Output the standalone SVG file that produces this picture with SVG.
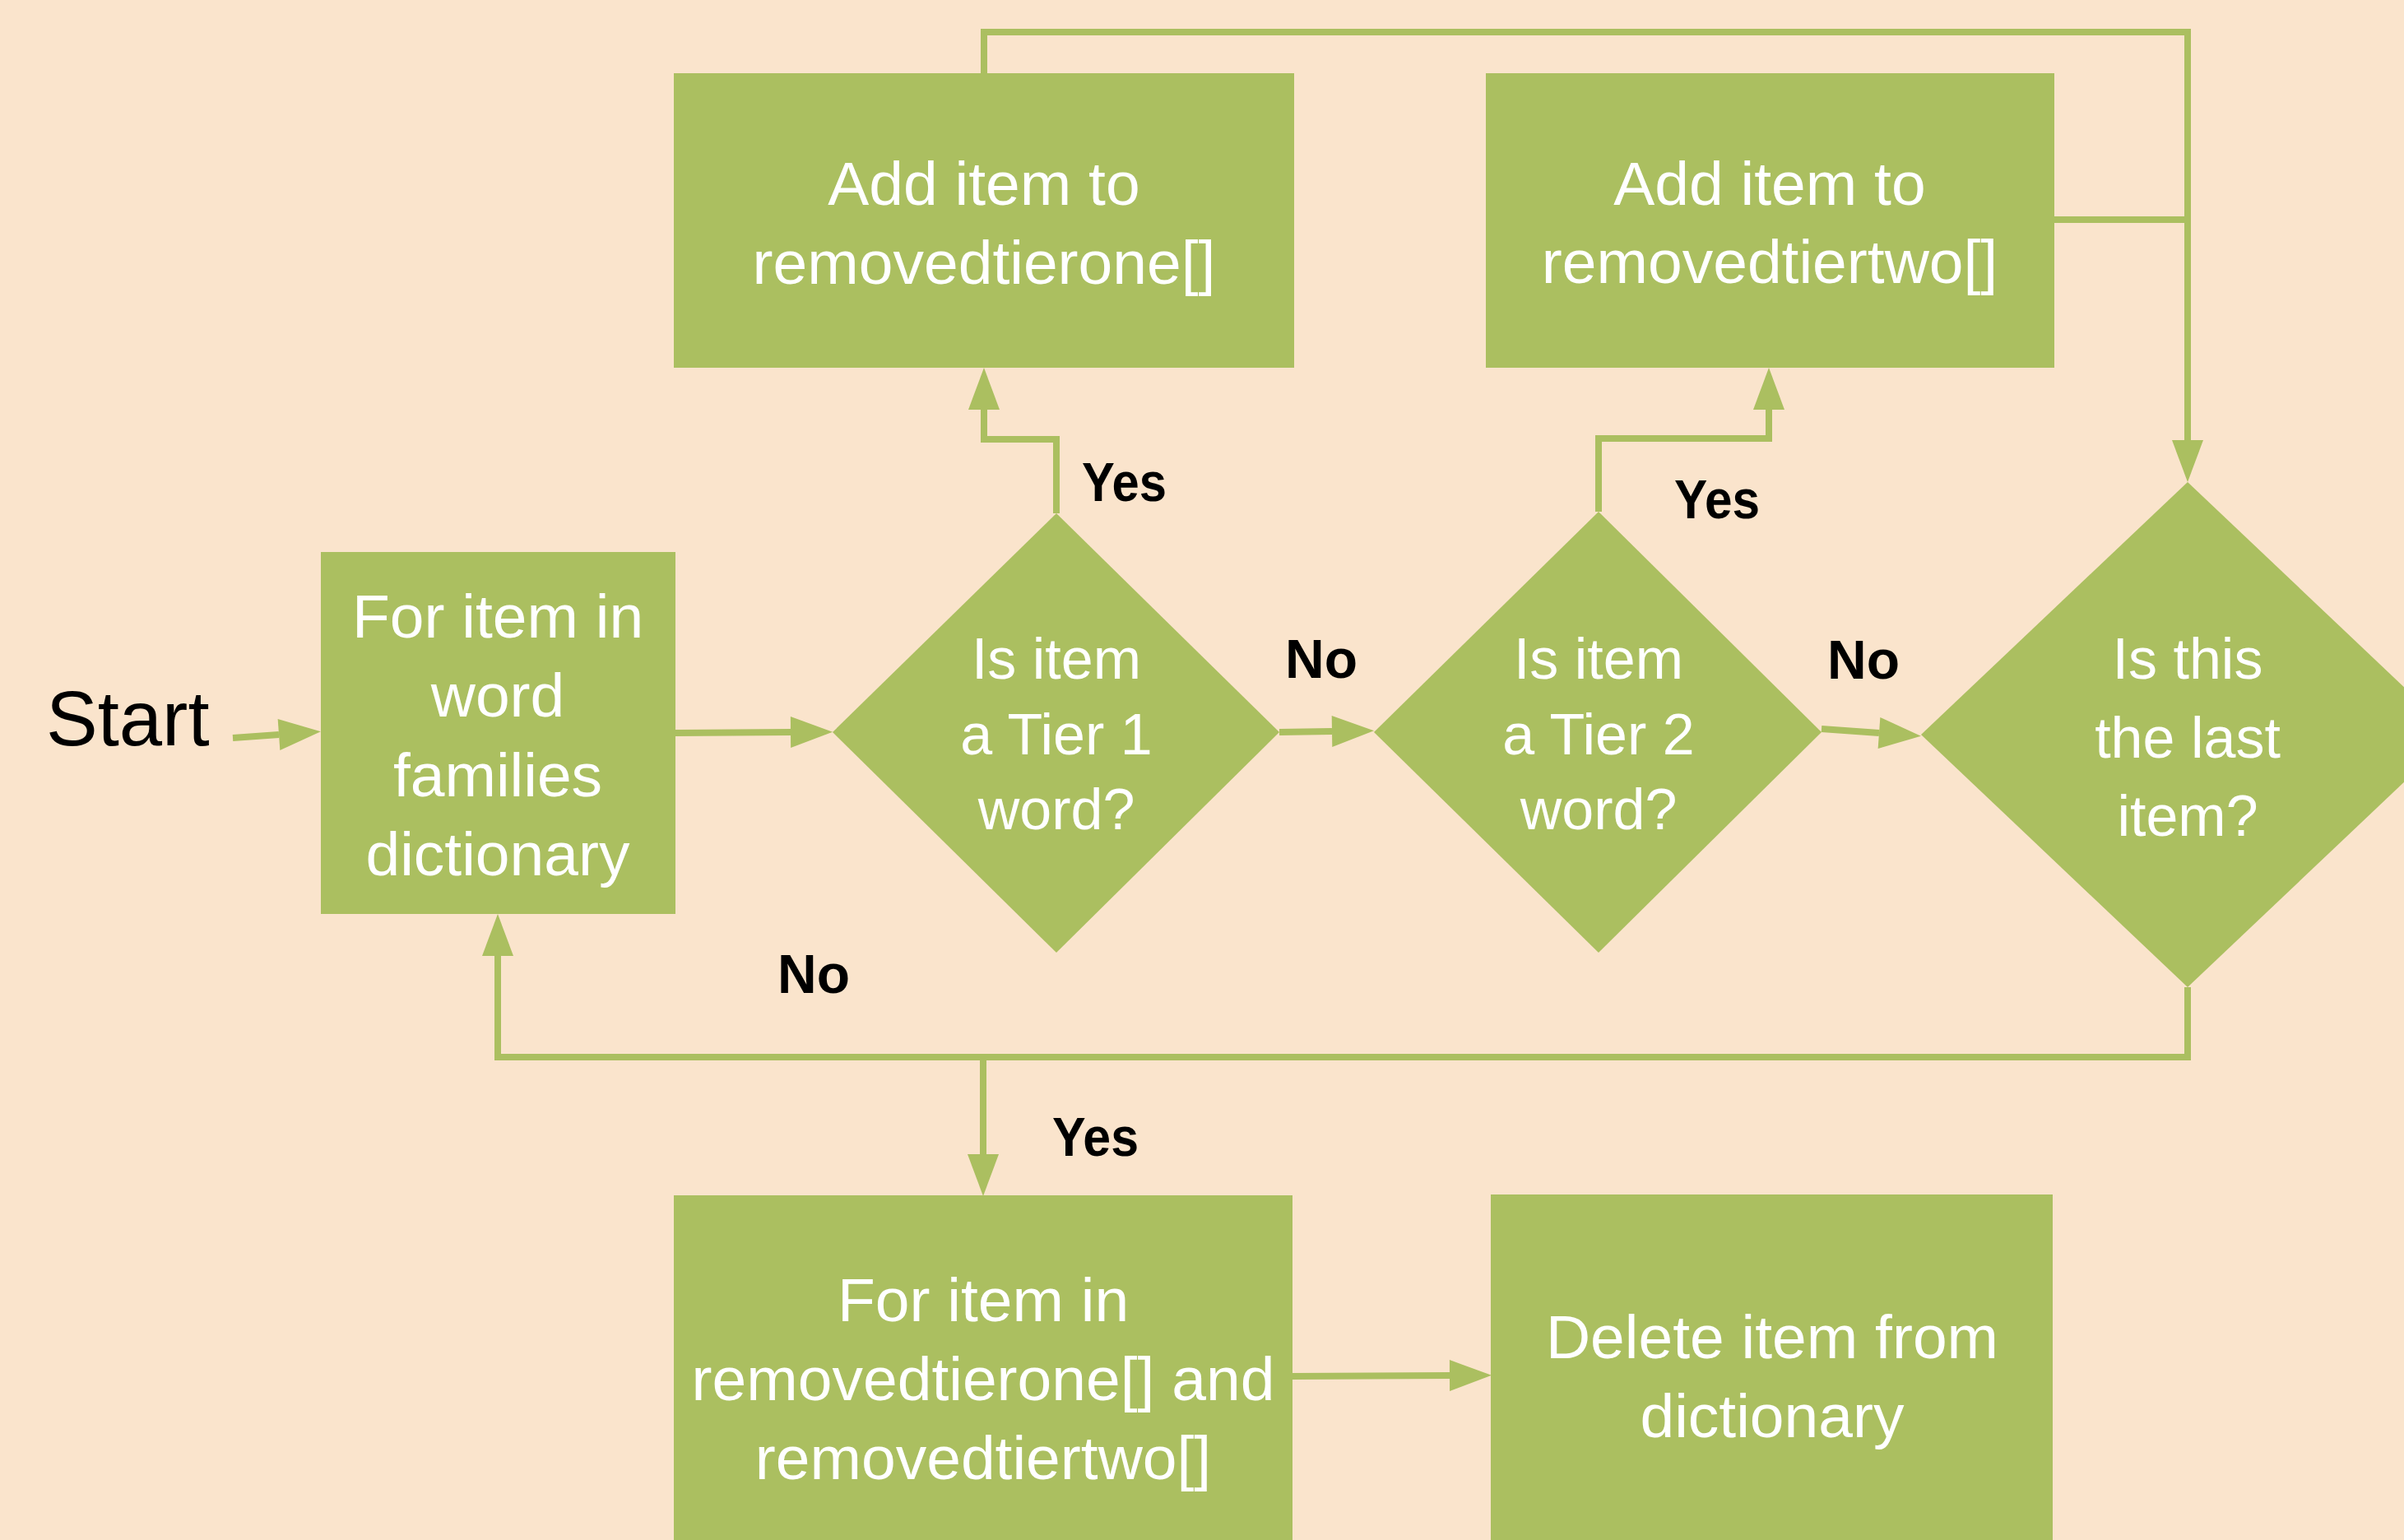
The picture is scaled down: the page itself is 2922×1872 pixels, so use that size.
<svg xmlns="http://www.w3.org/2000/svg" width="2922" height="1872" viewBox="0 0 2922 1872">
<defs>
<style>
.node{fill:#ABBF60;}
.t{font-family:"Liberation Sans",Arial,sans-serif;fill:#FFFFFF;text-anchor:middle;}
.box{font-size:75px;}
.dia{font-size:70px;}
.lbl{font-family:"Liberation Sans",Arial,sans-serif;font-weight:bold;font-size:66px;fill:#000000;}
.start{font-family:"Liberation Sans",Arial,sans-serif;font-size:94px;fill:#000000;}
.c{fill:none;stroke:#ABBF60;stroke-width:8;stroke-linecap:butt;stroke-linejoin:miter;}
</style>
<marker id="ah" markerUnits="userSpaceOnUse" markerWidth="52" markerHeight="40" viewBox="0 0 52 40" refX="0" refY="20" orient="auto" overflow="visible">
<path d="M0,1 L51,20 L0,39 Z" fill="#ABBF60"/>
</marker>
</defs>
<rect x="0" y="0" width="2922" height="1872" fill="#FAE4CC"/>

<g id="connectors">
<path class="c" d="M283,897 L339,893" marker-end="url(#ah)"/>
<path class="c" d="M821,891 L961,890" marker-end="url(#ah)"/>
<path class="c" d="M1555,890 L1619,889" marker-end="url(#ah)"/>
<path class="c" d="M2214,886 L2284,891" marker-end="url(#ah)"/>
<path class="c" d="M1284,624 V534 H1196 V498" marker-end="url(#ah)"/>
<path class="c" d="M1943,622 V533 H2150 V498" marker-end="url(#ah)"/>
<path class="c" d="M1196,89 V39 H2659 V535" marker-end="url(#ah)"/>
<path class="c" d="M2497,267 H2659"/>
<path class="c" d="M2659,1200 V1285 H605 V1162" marker-end="url(#ah)"/>
<path class="c" d="M1195,1285 V1403" marker-end="url(#ah)"/>
<path class="c" d="M1571,1673 L1762,1672" marker-end="url(#ah)"/>
</g>

<g id="start">
<text class="start" x="56" y="906">Start</text>
</g>

<g id="box1">
<rect class="node" x="390" y="671" width="431" height="440"/>
<text class="t box" x="605" y="775">For item in</text>
<text class="t box" x="605" y="871">word</text>
<text class="t box" x="605" y="968">families</text>
<text class="t box" x="605" y="1064">dictionary</text>
</g>

<g id="diamond1">
<polygon class="node" points="1284,624 1555,890 1284,1158 1012,890"/>
<text class="t dia" x="1284" y="825">Is item</text>
<text class="t dia" x="1284" y="917">a Tier 1</text>
<text class="t dia" x="1284" y="1008">word?</text>
</g>

<g id="diamond2">
<polygon class="node" points="1943,622 2214,890 1943,1158 1670,890"/>
<text class="t dia" x="1943" y="825">Is item</text>
<text class="t dia" x="1943" y="917">a Tier 2</text>
<text class="t dia" x="1943" y="1008">word?</text>
</g>

<g id="diamond3">
<polygon class="node" points="2659,586 2983,893 2659,1200 2335,893"/>
<text class="t dia" x="2659" y="825">Is this</text>
<text class="t dia" x="2659" y="921">the last</text>
<text class="t dia" x="2659" y="1016">item?</text>
</g>

<g id="box2">
<rect class="node" x="819" y="89" width="754" height="358"/>
<text class="t box" x="1196" y="249">Add item to</text>
<text class="t box" x="1196" y="345">removedtierone[]</text>
</g>

<g id="box3">
<rect class="node" x="1806" y="89" width="691" height="358"/>
<text class="t box" x="2151" y="249">Add item to</text>
<text class="t box" x="2151" y="344">removedtiertwo[]</text>
</g>

<g id="box4">
<rect class="node" x="819" y="1453" width="752" height="500"/>
<text class="t box" x="1195" y="1606">For item in</text>
<text class="t box" x="1195" y="1702">removedtierone[] and</text>
<text class="t box" x="1195" y="1798">removedtiertwo[]</text>
</g>

<g id="box5">
<rect class="node" x="1812" y="1452" width="683" height="500"/>
<text class="t box" x="2154" y="1651">Delete item from</text>
<text class="t box" x="2154" y="1747">dictionary</text>
</g>

<g id="labels">
<text class="lbl" x="1315" y="609" textLength="103" lengthAdjust="spacingAndGlyphs">Yes</text>
<text class="lbl" x="2035" y="630" textLength="104" lengthAdjust="spacingAndGlyphs">Yes</text>
<text class="lbl" x="1562" y="824">No</text>
<text class="lbl" x="2221" y="825">No</text>
<text class="lbl" x="945" y="1207">No</text>
<text class="lbl" x="1279" y="1405" textLength="105" lengthAdjust="spacingAndGlyphs">Yes</text>
</g>
</svg>
